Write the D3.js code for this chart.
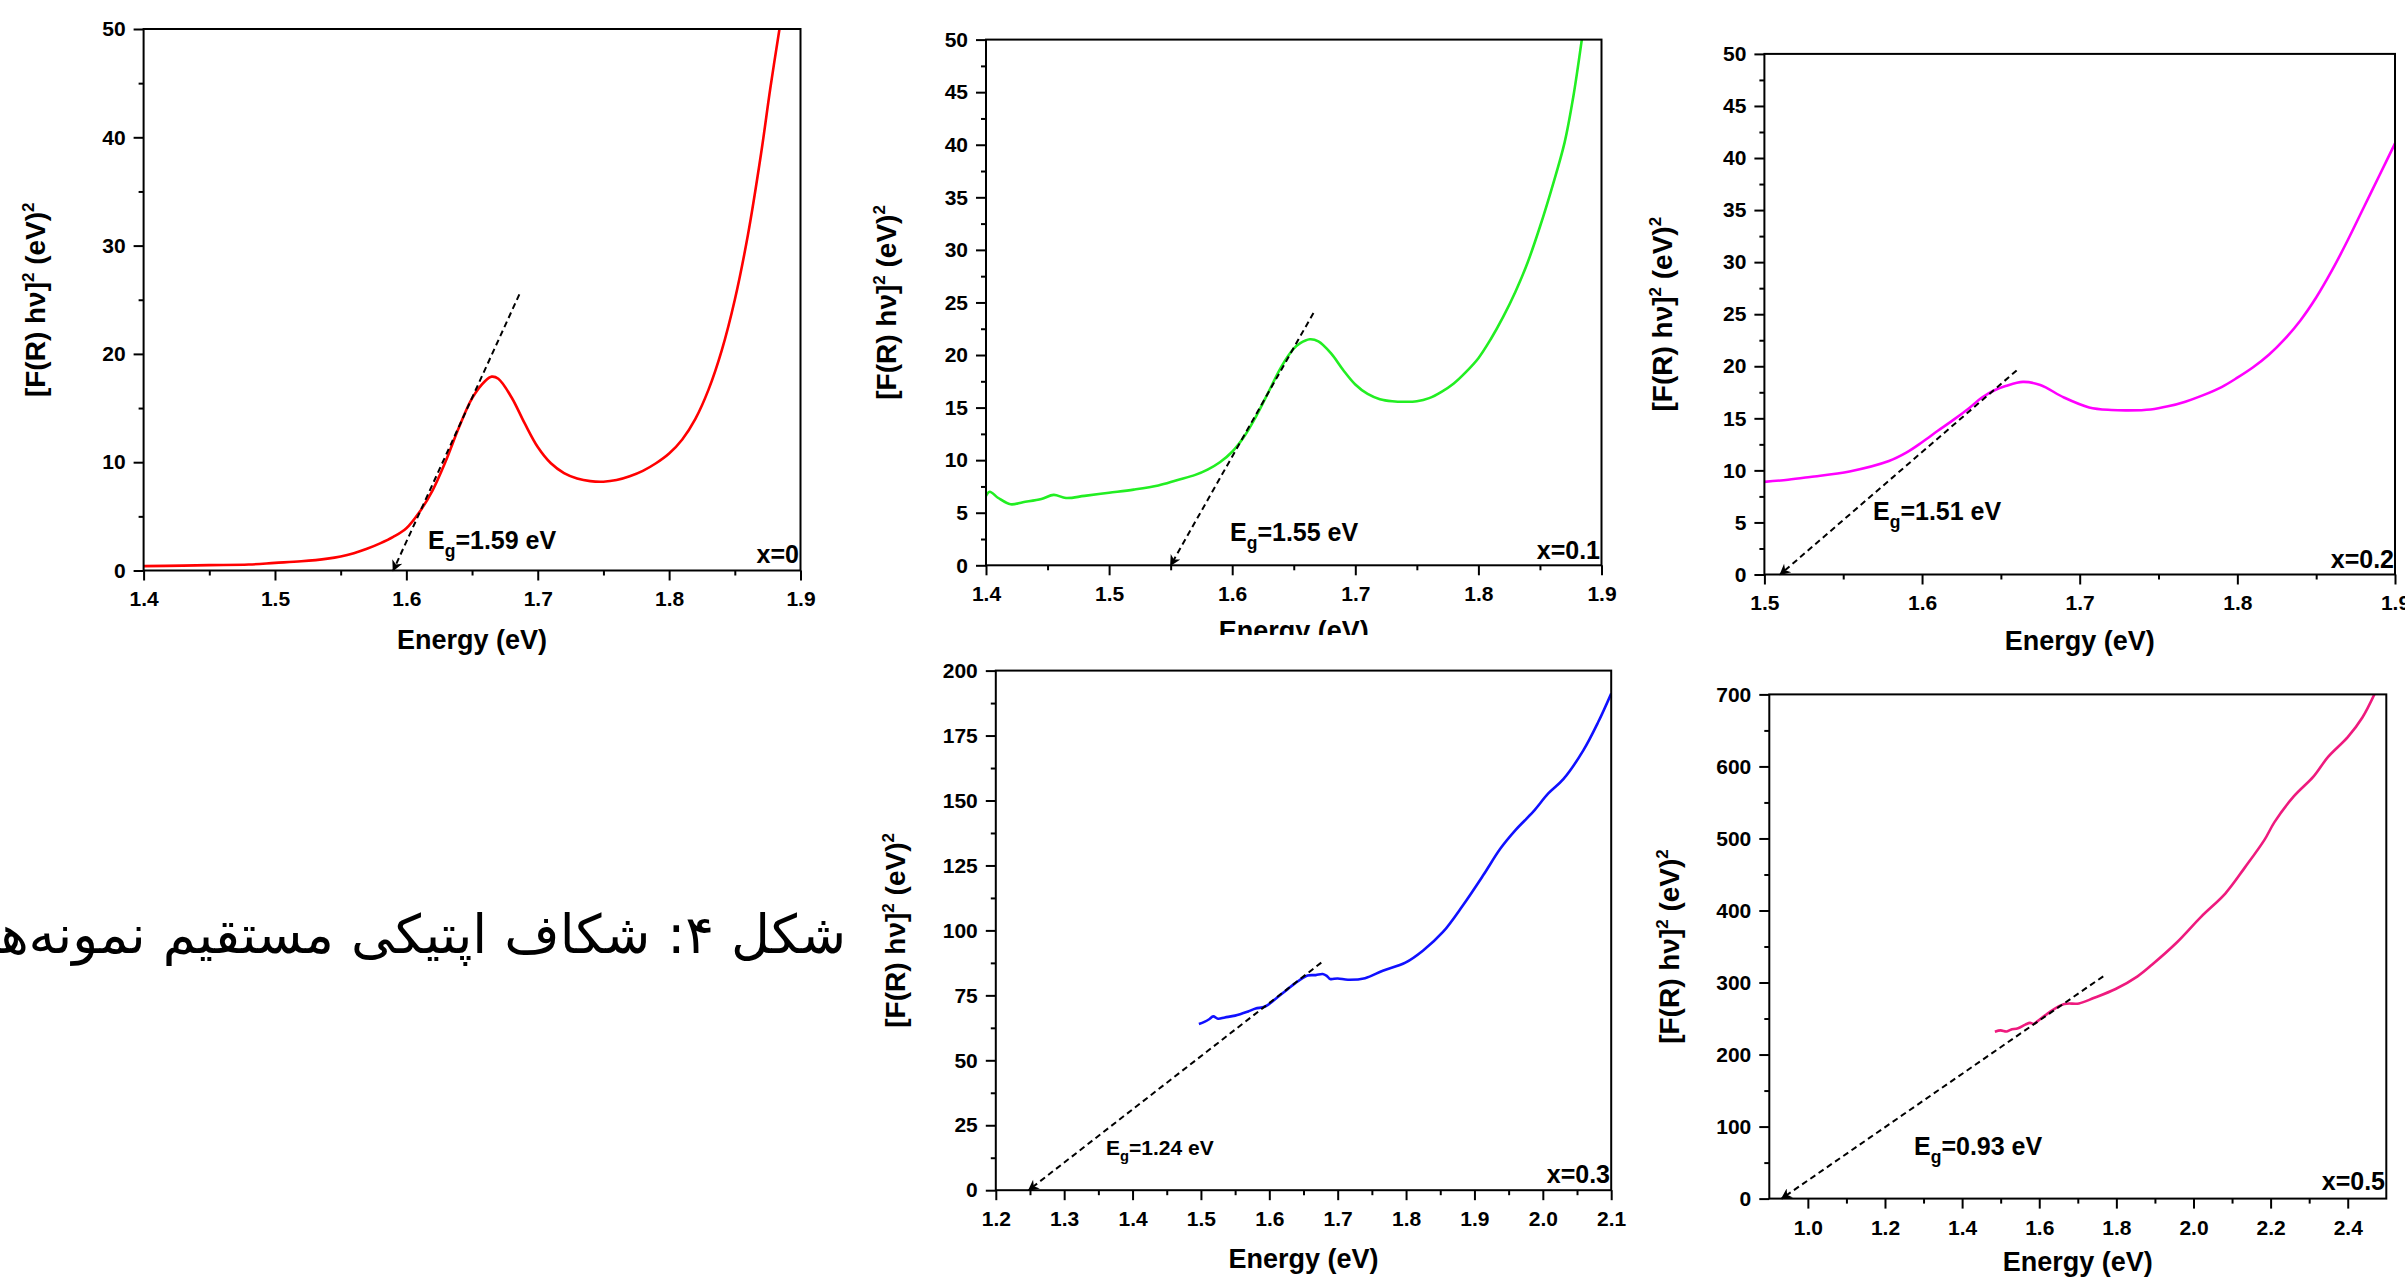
<!DOCTYPE html>
<html>
<head>
<meta charset="utf-8">
<script src="https://cdn.jsdelivr.net/npm/d3@7"></script>
<style>
  html, body { margin: 0; padding: 0; background: #fff; overflow: hidden; }
  svg { display: block; }
</style>
</head>
<body>
<svg id="chart" width="2405" height="1280"></svg>
<script>
// x = 0
const energy0 = [1.40, 1.43, 1.45, 1.48, 1.50, 1.52, 1.54, 1.55, 1.56, 1.57, 1.58, 1.59, 1.60, 1.61, 1.62, 1.63, 1.64, 1.65, 1.66, 1.665, 1.67, 1.68, 1.69, 1.70, 1.71, 1.72, 1.73, 1.74, 1.75, 1.76, 1.77, 1.78, 1.79, 1.80, 1.81, 1.82, 1.83, 1.84, 1.85, 1.86, 1.87, 1.877, 1.884]
const value0 = [0.4, 0.45, 0.5, 0.55, 0.7, 0.85, 1.1, 1.3, 1.6, 2.0, 2.5, 3.1, 3.9, 5.4, 7.4, 10.1, 13.2, 15.9, 17.5, 17.9, 17.7, 16.0, 13.6, 11.4, 9.9, 9.0, 8.5, 8.25, 8.2, 8.35, 8.7, 9.2, 9.9, 10.8, 12.1, 14.0, 16.7, 20.3, 25.0, 31.0, 38.5, 44.5, 50.0]

// x = 0.1
const energy1 = [1.40, 1.403, 1.41, 1.42, 1.43, 1.445, 1.455, 1.465, 1.48, 1.50, 1.52, 1.54, 1.555, 1.57, 1.58, 1.59, 1.60, 1.61, 1.62, 1.63, 1.64, 1.65, 1.655, 1.663, 1.67, 1.68, 1.69, 1.70, 1.71, 1.72, 1.73, 1.74, 1.75, 1.76, 1.77, 1.78, 1.79, 1.80, 1.81, 1.82, 1.83, 1.84, 1.85, 1.86, 1.87, 1.877, 1.884]
const value1 = [6.6, 7.0, 6.4, 5.8, 6.0, 6.3, 6.7, 6.4, 6.6, 6.9, 7.2, 7.6, 8.1, 8.6, 9.1, 9.8, 10.8, 12.3, 14.3, 16.6, 18.9, 20.6, 21.1, 21.5, 21.3, 20.2, 18.6, 17.2, 16.3, 15.8, 15.6, 15.55, 15.6, 15.9, 16.5, 17.3, 18.4, 19.7, 21.5, 23.6, 26.0, 28.8, 32.2, 36.0, 40.2, 44.5, 50.0]

// x = 0.2
const energy2 = [1.50, 1.515, 1.529, 1.554, 1.579, 1.59, 1.60, 1.61, 1.619, 1.63, 1.638, 1.646, 1.653, 1.664, 1.675, 1.69, 1.706, 1.72, 1.731, 1.745, 1.756, 1.767, 1.778, 1.79, 1.80, 1.81, 1.82, 1.83, 1.84, 1.85, 1.86, 1.87, 1.88, 1.89, 1.90]
const value2 = [8.9, 9.1, 9.37, 9.9, 10.9, 11.7, 12.7, 13.8, 14.75, 16.0, 17.0, 17.7, 18.1, 18.5, 18.2, 17.0, 16.05, 15.8, 15.76, 15.85, 16.15, 16.6, 17.2, 18.0, 18.9, 19.9, 21.1, 22.6, 24.4, 26.6, 29.2, 32.1, 35.2, 38.3, 41.4]

// x = 0.3
const energy3 = [1.497, 1.505, 1.512, 1.518, 1.525, 1.535, 1.55, 1.569, 1.58, 1.594, 1.612, 1.625, 1.638, 1.656, 1.668, 1.678, 1.684, 1.689, 1.70, 1.715, 1.74, 1.766, 1.799, 1.825, 1.854, 1.883, 1.913, 1.938, 1.96, 1.986, 2.008, 2.03, 2.059, 2.081, 2.10]
const value3 = [64.0, 64.8, 65.8, 66.9, 66.0, 66.5, 67.2, 68.8, 69.9, 70.7, 74.3, 77.0, 79.7, 82.6, 82.8, 83.2, 82.5, 81.3, 81.5, 81.0, 81.6, 84.5, 87.6, 92.3, 99.4, 109.6, 121.3, 131.5, 138.6, 145.7, 152.7, 158.2, 169.2, 180.2, 191.2]

// x = 0.5
const energy4 = [1.485, 1.50, 1.515, 1.526, 1.545, 1.564, 1.576, 1.585, 1.595, 1.627, 1.665, 1.703, 1.741, 1.798, 1.855, 1.893, 1.956, 2.019, 2.083, 2.133, 2.184, 2.21, 2.26, 2.311, 2.349, 2.40, 2.438, 2.469]
const value4 = [231.7, 233.5, 232.0, 234.5, 236.5, 241.6, 244.0, 242.5, 246.0, 259.0, 270.2, 271.0, 278.4, 291.0, 308.6, 325.0, 355.2, 390.9, 423.9, 459.5, 498.0, 522.7, 558.4, 585.8, 613.2, 640.7, 668.0, 700.0]

// tangent lines: [upper end, x-axis intercept]
const tangentE = [[1.686, 1.59], [1.666, 1.55], [1.66, 1.51], [1.676, 1.248], [1.766, 0.932]]
const tangentV = [[25.5, 0], [24.0, 0], [19.6, 0], [87.6, 0], [308.6, 0]]

const bandGaps = ['1.59', '1.55', '1.51', '1.24', '0.93']
const sampleLabels = ['x=0', 'x=0.1', 'x=0.2', 'x=0.3', 'x=0.5']
const colors = ['#ff0000', '#22ee22', '#ff00ff', '#1010ff', '#ee1a7e']

const xTicks0 = [1.4, 1.5, 1.6, 1.7, 1.8, 1.9]
const xMinor0 = [1.45, 1.55, 1.65, 1.75, 1.85]
const xTicks2 = [1.5, 1.6, 1.7, 1.8, 1.9]
const xMinor2 = [1.55, 1.65, 1.75, 1.85]
const xTicks3 = [1.2, 1.3, 1.4, 1.5, 1.6, 1.7, 1.8, 1.9, 2.0, 2.1]
const xMinor3 = [1.25, 1.35, 1.45, 1.55, 1.65, 1.75, 1.85, 1.95, 2.05]
const xTicks4 = [1.0, 1.2, 1.4, 1.6, 1.8, 2.0, 2.2, 2.4]
const xMinor4 = [1.1, 1.3, 1.5, 1.7, 1.9, 2.1, 2.3]

const yTicks0 = [0, 10, 20, 30, 40, 50]
const yMinor0 = [5, 15, 25, 35, 45]
const yTicks1 = [0, 5, 10, 15, 20, 25, 30, 35, 40, 45, 50]
const yMinor1 = [2.5, 7.5, 12.5, 17.5, 22.5, 27.5, 32.5, 37.5, 42.5, 47.5]
const yTicks3 = [0, 25, 50, 75, 100, 125, 150, 175, 200]
const yMinor3 = [12.5, 37.5, 62.5, 87.5, 112.5, 137.5, 162.5, 187.5]
const yTicks4 = [0, 100, 200, 300, 400, 500, 600, 700]
const yMinor4 = [50, 150, 250, 350, 450, 550, 650]

const caption = 'شکل ۴: شکاف اپتیکی مستقیم نمونه‌ها'

const panels = [
  { xs: energy0, ys: value0, xDomain: [1.4, 1.9], yDomain: [0, 50], xTicks: xTicks0, xMinor: xMinor0, yTicks: yTicks0, yMinor: yMinor0,
    box: { left: 143.6, right: 800.5, top: 29, bottom: 570.5 }, titleX: 35, energyY: 649, eg: [428, 549, 25], tag: [799, 563] },
  { xs: energy1, ys: value1, xDomain: [1.4, 1.9], yDomain: [0, 50], xTicks: xTicks0, xMinor: xMinor0, yTicks: yTicks1, yMinor: yMinor1,
    box: { left: 986, right: 1601.5, top: 39.6, bottom: 565.3 }, titleX: 886, energyY: 640, eg: [1230, 541, 25], tag: [1600, 559], clipBottom: 635 },
  { xs: energy2, ys: value2, xDomain: [1.5, 1.9], yDomain: [0, 50], xTicks: xTicks2, xMinor: xMinor2, yTicks: yTicks1, yMinor: yMinor1,
    box: { left: 1764.4, right: 2395, top: 53.9, bottom: 574.5 }, titleX: 1662, energyY: 650, eg: [1873, 520, 25], tag: [2394, 568] },
  { xs: energy3, ys: value3, xDomain: [1.2, 2.1], yDomain: [0, 200], xTicks: xTicks3, xMinor: xMinor3, yTicks: yTicks3, yMinor: yMinor3,
    box: { left: 995.8, right: 1611.2, top: 670.6, bottom: 1190.2 }, titleX: 895, energyY: 1268, eg: [1106, 1155, 21], tag: [1610, 1183] },
  { xs: energy4, ys: value4, xDomain: [0.9, 2.5], yDomain: [0, 700], xTicks: xTicks4, xMinor: xMinor4, yTicks: yTicks4, yMinor: yMinor4,
    box: { left: 1769.3, right: 2386.3, top: 694.4, bottom: 1198.6 }, titleX: 1669, energyY: 1271, eg: [1914, 1155, 25], tag: [2385, 1190] }
]

const FONT = "'Liberation Sans', Arial, sans-serif"
const svg = d3.select('#chart')
const defs = svg.append('defs')

defs.append('marker')
  .attr('id', 'arrow')
  .attr('viewBox', '0 0 10 10')
  .attr('refX', 9)
  .attr('refY', 5)
  .attr('markerWidth', 14)
  .attr('markerHeight', 11)
  .attr('markerUnits', 'userSpaceOnUse')
  .attr('orient', 'auto')
  .append('path')
  .attr('d', 'M0,0 L10,5 L0,10 L3,5 Z')
  .attr('fill', '#000')

// Persian caption, right aligned; the left part runs off the page
const cap = svg.append('text')
  .attr('x', 846)
  .attr('y', 953)
  .attr('text-anchor', 'end')
  .attr('font-family', "'DejaVu Sans', sans-serif")
  .attr('font-size', 50)
  .attr('fill', '#000')
  .text(caption)
const capW = cap.node().getComputedTextLength()
if (capW > 0) cap.attr('font-size', 50 * 862 / capW)

function drawPanel (p, i) {
  const g = svg.append('g')
  if (p.clipBottom) {
    defs.append('clipPath').attr('id', 'panel' + i)
      .append('rect').attr('x', 0).attr('y', 0).attr('width', 2405).attr('height', p.clipBottom)
    g.attr('clip-path', `url(#panel${i})`)
  }

  const x = d3.scaleLinear().domain(p.xDomain).range([p.box.left, p.box.right])
  const y = d3.scaleLinear().domain(p.yDomain).range([p.box.bottom, p.box.top])

  defs.append('clipPath').attr('id', 'plot' + i)
    .append('rect')
    .attr('x', p.box.left).attr('y', p.box.top)
    .attr('width', p.box.right - p.box.left).attr('height', p.box.bottom - p.box.top)

  // spectrum
  g.append('path')
    .datum(d3.zip(p.xs, p.ys))
    .attr('clip-path', `url(#plot${i})`)
    .attr('fill', 'none')
    .attr('stroke', colors[i])
    .attr('stroke-width', 2.6)
    .attr('d', d3.line().x(d => x(d[0])).y(d => y(d[1])).curve(d3.curveCatmullRom.alpha(0.5)))

  // tangent with arrow at the band gap
  g.append('line')
    .attr('x1', x(tangentE[i][0])).attr('y1', y(tangentV[i][0]))
    .attr('x2', x(tangentE[i][1])).attr('y2', y(tangentV[i][1]))
    .attr('stroke', '#000')
    .attr('stroke-width', 2)
    .attr('stroke-dasharray', '6,4')
    .attr('marker-end', 'url(#arrow)')

  // axes
  const styleAxis = sel => {
    sel.select('.domain').remove()
    sel.selectAll('line').attr('stroke', '#000').attr('stroke-width', 2)
    sel.selectAll('text').attr('font-family', FONT).attr('font-weight', 'bold').attr('font-size', 21).attr('fill', '#000')
  }
  g.append('g').attr('transform', `translate(0,${p.box.bottom})`)
    .call(d3.axisBottom(x).tickValues(p.xMinor).tickSize(5).tickFormat(''))
    .call(styleAxis)
  g.append('g').attr('transform', `translate(0,${p.box.bottom})`)
    .call(d3.axisBottom(x).tickValues(p.xTicks).tickSize(10).tickPadding(11).tickFormat(d3.format('.1f')))
    .call(styleAxis)
  g.append('g').attr('transform', `translate(${p.box.left},0)`)
    .call(d3.axisLeft(y).tickValues(p.yMinor).tickSize(5).tickFormat(''))
    .call(styleAxis)
  g.append('g').attr('transform', `translate(${p.box.left},0)`)
    .call(d3.axisLeft(y).tickValues(p.yTicks).tickSize(10).tickPadding(8).tickFormat(d3.format('d')))
    .call(styleAxis)

  // frame
  g.append('rect')
    .attr('x', p.box.left).attr('y', p.box.top)
    .attr('width', p.box.right - p.box.left).attr('height', p.box.bottom - p.box.top)
    .attr('fill', 'none')
    .attr('stroke', '#000')
    .attr('stroke-width', 2)

  // axis titles
  g.append('text')
    .attr('x', (p.box.left + p.box.right) / 2)
    .attr('y', p.energyY)
    .attr('text-anchor', 'middle')
    .attr('font-family', FONT).attr('font-weight', 'bold').attr('font-size', 27)
    .text('Energy (eV)')

  const yt = g.append('text')
    .attr('transform', `translate(${p.titleX + 10},${(p.box.top + p.box.bottom) / 2}) rotate(-90)`)
    .attr('text-anchor', 'middle')
    .attr('font-family', FONT).attr('font-weight', 'bold').attr('font-size', 28)
  yt.append('tspan').text('[F(R) hν]')
  yt.append('tspan').attr('dy', -11).attr('font-size', 17).text('2')
  yt.append('tspan').attr('dy', 11).text(' (eV)')
  yt.append('tspan').attr('dy', -11).attr('font-size', 17).text('2')

  // band gap label
  const eg = g.append('text')
    .attr('x', p.eg[0]).attr('y', p.eg[1])
    .attr('font-family', FONT).attr('font-weight', 'bold').attr('font-size', p.eg[2])
  eg.append('tspan').text('E')
  eg.append('tspan').attr('dy', p.eg[2] * 0.3).attr('font-size', p.eg[2] * 0.7).text('g')
  eg.append('tspan').attr('dy', -p.eg[2] * 0.3).text('=' + bandGaps[i] + ' eV')

  // sample tag
  g.append('text')
    .attr('x', p.tag[0]).attr('y', p.tag[1])
    .attr('text-anchor', 'end')
    .attr('font-family', FONT).attr('font-weight', 'bold').attr('font-size', 25)
    .text(sampleLabels[i])
}

panels.forEach(drawPanel)
</script>
</body>
</html>
